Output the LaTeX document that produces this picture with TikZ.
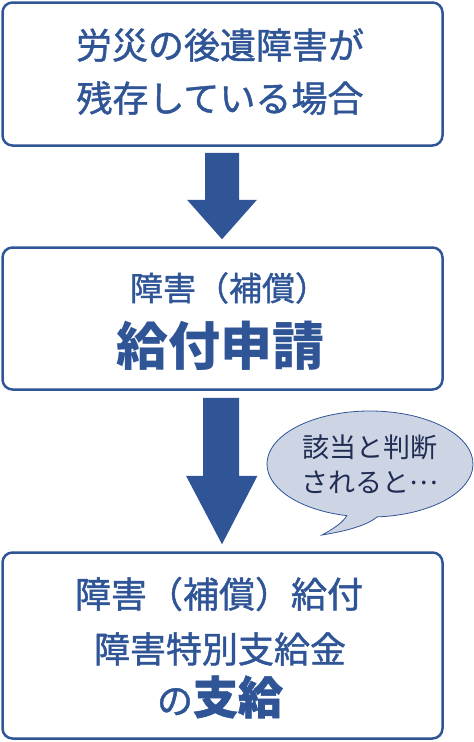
\documentclass[tikz,border=0pt]{standalone}
\usepackage{fontspec}
\setmainfont{Noto Sans CJK JP}
\newfontfamily\medjp{Noto Sans CJK JP}[FakeBold=1.2]
\usetikzlibrary{calc}
\definecolor{mainblue}{HTML}{2F5597}
\definecolor{bubblefill}{HTML}{CDD4E4}
\definecolor{bubbletext}{HTML}{1F2D52}
\tikzset{
  stepbox/.style={draw=mainblue, line width=2.5pt, rounded corners=10pt, fill=white, inner sep=0pt},
  boxtext/.style={text=mainblue, inner sep=0pt, anchor=center},
  blockarrow/.style={fill=mainblue, draw=none},
}
\begin{document}
\begin{tikzpicture}[x=1pt,y=-1pt]
\useasboundingbox (0,0) rectangle (474,742);
% boxes
\node[stepbox, minimum width=440pt, minimum height=143pt] (b1) at (222.5,74) {};
\node[stepbox, minimum width=440pt, minimum height=142pt] (b2) at (222.5,318.5) {};
\node[stepbox, minimum width=440pt, minimum height=186pt] (b3) at (222.5,645.5) {};
% texts
\node[boxtext, font=\medjp\fontsize{36}{36}\selectfont] (t1a) at (220,45) {労災の後遺障害が};
\node[boxtext, font=\medjp\fontsize{36}{36}\selectfont] (t1b) at (220,98) {残存している場合};
\node[boxtext, font=\medjp\fontsize{33}{33}\selectfont] (t2a) at (229,288) {障害（補償）};
\node[boxtext, font=\bfseries\fontsize{52}{52}\selectfont] (t2b) at (220,346) {給付申請};
\node[boxtext, font=\medjp\fontsize{36}{36}\selectfont] (t3a) at (219,594) {障害（補償）給付};
\node[boxtext, font=\medjp\fontsize{36}{36}\selectfont] (t3b) at (220,649) {障害特別支給金};
\node[boxtext, font=\medjp\fontsize{36}{36}\selectfont, anchor=base] (t3c) at (220,714) {の{\bfseries\fontsize{45}{45}\selectfont 支給}};
% arrows
\fill[blockarrow] ($(b1.south)+(-17.5,6)$) -- ($(b1.south)+(16.5,6)$) -- ($(b1.south)+(16.5,53)$) -- ($(b1.south)+(34.5,53)$)
  -- ($(b2.north)+(-0.5,-7)$) -- ($(b1.south)+(-35.5,53)$) -- ($(b1.south)+(-17.5,53)$) -- cycle;
\fill[blockarrow] ($(b2.south)+(-19.5,7)$) -- ($(b2.south)+(16.5,7)$) -- ($(b2.south)+(16.5,85)$) -- ($(b2.south)+(35,85)$)
  -- ($(b3.north)+(-0.5,-7)$) -- ($(b2.south)+(-36.5,85)$) -- ($(b2.south)+(-19.5,85)$) -- cycle;
% speech bubble
\coordinate (tip) at (322,535);
\draw[fill=bubblefill, draw=mainblue, line width=0.8pt]
  (tip) .. controls (335,528) and (343,522) .. ($(370,464)+(103:103 and 53)$)
  arc[start angle=103, end angle=446, x radius=103, y radius=53]
  .. controls (365,527) and (340,532) .. (tip) -- cycle;
\node[text=bubbletext, font=\fontsize{27}{27}\selectfont, inner sep=0pt] (s1) at (370,447) {該当と判断};
\node[text=bubbletext, font=\fontsize{27}{27}\selectfont, inner sep=0pt] (s2) at (370,482) {されると\raisebox{8pt}{…}};
\end{tikzpicture}
\end{document}
